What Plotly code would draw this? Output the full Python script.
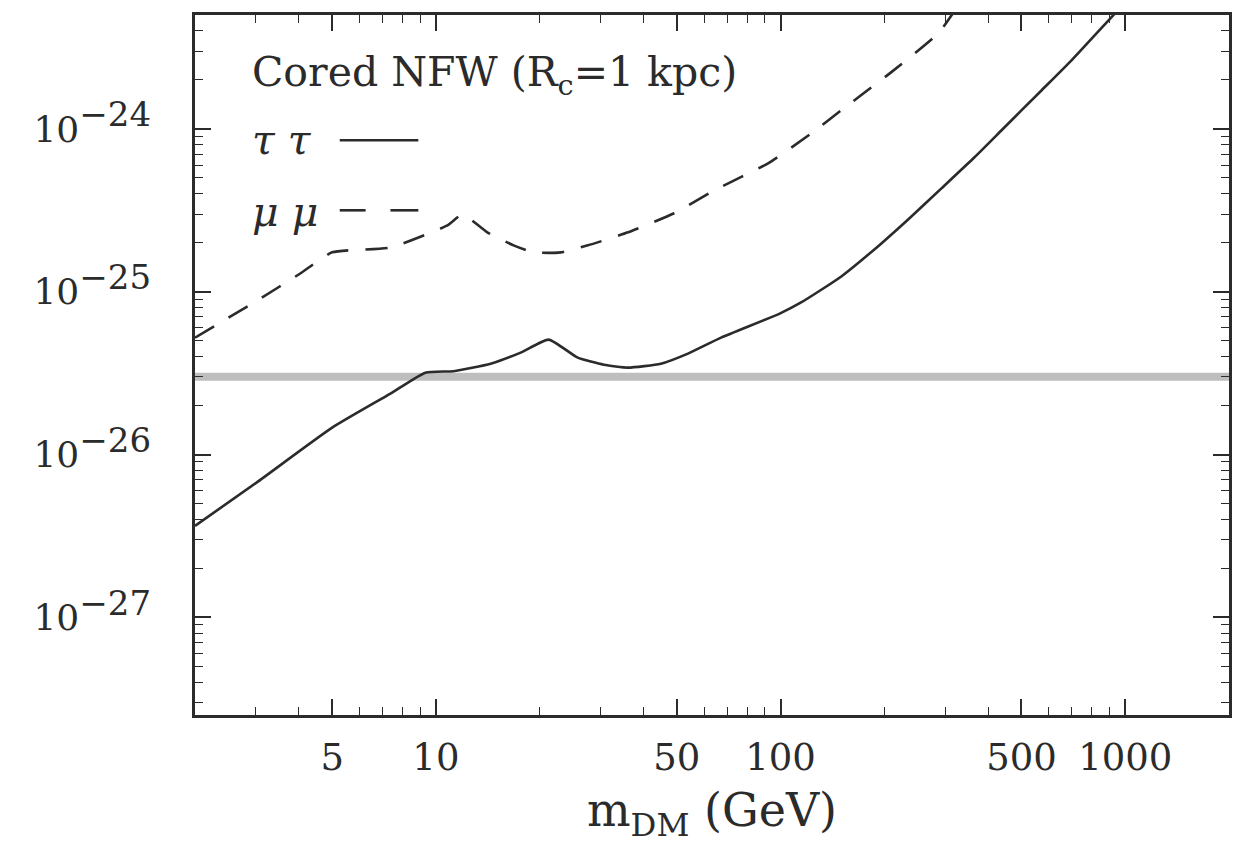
import math
import plotly.graph_objects as go

# --- data ---
tau_mass = [2.0, 3.01, 5.0, 7.38, 9.32, 11.25, 14.41, 17.62, 21.24, 25.79, 30.7, 36.05, 44.96,
            53.86, 67.2, 99.4, 114.7, 150.0, 196.1, 234.9, 292.9, 365.3, 437.7, 572.2, 699.5,
            896.0, 977.0]
tau_logsv = [-26.438, -26.174, -25.835, -25.626, -25.497, -25.488, -25.442, -25.374, -25.294,
             -25.405, -25.448, -25.466, -25.442, -25.380, -25.282, -25.134, -25.066, -24.906,
             -24.703, -24.555, -24.365, -24.174, -24.008, -23.762, -23.577, -23.331, -23.245]

mu_mass = [2.0, 3.03, 4.04, 5.0, 7.38, 10.8, 11.94, 14.1, 16.8, 19.2, 23.0, 27.6, 36.1, 49.1,
           64.2, 92.0, 123.0, 150.0, 209.6, 287.1, 323.9]
mu_logsv = [-25.282, -25.054, -24.888, -24.758, -24.728, -24.592, -24.525, -24.635, -24.715,
            -24.758, -24.758, -24.715, -24.635, -24.518, -24.377, -24.211, -24.026, -23.885,
            -23.651, -23.411, -23.257]

thermal_mass = [2.0, 2000.0]
thermal_sv = [3e-26, 3e-26]

x_tickvals = [5, 10, 50, 100, 500, 1000]
x_ticktext = ["5", "10", "50", "100", "500", "1000"]
y_exponents = [-27, -26, -25, -24]

tau_sv = [10 ** v for v in tau_logsv]
mu_sv = [10 ** v for v in mu_logsv]

INK = "#2b2b2b"
FONT = "DejaVu Serif"

fig = go.Figure()
fig.add_trace(go.Scatter(x=thermal_mass, y=thermal_sv, mode="lines",
                         line=dict(color="#bebebe", width=8), showlegend=False))
fig.add_trace(go.Scatter(x=tau_mass, y=tau_sv, mode="lines",
                         line=dict(color=INK, width=2.6, shape="spline", smoothing=0.5),
                         showlegend=False))
fig.add_trace(go.Scatter(x=mu_mass, y=mu_sv, mode="lines",
                         line=dict(color=INK, width=2.6, dash="22px,17px", shape="spline", smoothing=0.5),
                         showlegend=False))

x_minor = [m * 10 ** e for e in range(0, 4) for m in range(1, 10)]
x_minor = [v for v in x_minor if 2 <= v <= 2000 and v not in x_tickvals]
y_minor = [m * 10 ** e for e in range(-28, -23) for m in range(2, 10)]

fig.update_xaxes(type="log", range=[math.log10(2), math.log10(2000)],
                 tickvals=x_tickvals, ticktext=x_ticktext,
                 ticks="inside", ticklen=16, tickwidth=1.5, tickcolor=INK,
                 minor=dict(tickvals=x_minor, ticks="inside", ticklen=8, tickwidth=1.2, tickcolor=INK),
                 showline=True, linecolor=INK, linewidth=2.5, mirror="ticks",
                 showgrid=False, zeroline=False, ticklabelstandoff=8,
                 tickfont=dict(family=FONT, size=37, color=INK),
                 title=dict(text="m<sub>DM</sub> (GeV)", font=dict(family=FONT, size=46, color=INK),
                            standoff=22))
fig.update_yaxes(type="log", range=[-27.6, -23.3],
                 tickvals=[10 ** e for e in y_exponents],
                 ticktext=["10<sup><span style='font-size:34px'>\u2212%d</span></sup>" % (-e) for e in y_exponents],
                 ticks="inside", ticklen=16, tickwidth=1.5, tickcolor=INK,
                 minor=dict(tickvals=y_minor, ticks="inside", ticklen=8, tickwidth=1.2, tickcolor=INK),
                 showline=True, linecolor=INK, linewidth=2.5, mirror="ticks",
                 showgrid=False, zeroline=False, ticklabelstandoff=34,
                 tickfont=dict(family=FONT, size=36, color=INK))

# legend drawn as text + key lines inside the frame
ann_font = dict(family=FONT, size=41, color=INK)
fig.add_annotation(xref="paper", yref="paper", x=0.053, y=0.914, xanchor="left", yanchor="middle",
                   text="Cored NFW (R<sub>c</sub>=1 kpc)", showarrow=False, font=ann_font)
fig.add_annotation(xref="paper", yref="paper", x=0.053, y=0.821, xanchor="left", yanchor="middle",
                   text="<i>\u03c4 \u03c4</i>", showarrow=False, font=ann_font)
fig.add_annotation(xref="paper", yref="paper", x=0.053, y=0.719, xanchor="left", yanchor="middle",
                   text="<i>\u03bc \u03bc</i>", showarrow=False, font=ann_font)
fig.add_shape(type="line", xref="paper", yref="paper", x0=0.140, x1=0.216, y0=0.821, y1=0.821,
              line=dict(color=INK, width=2.6))
fig.add_shape(type="line", xref="paper", yref="paper", x0=0.140, x1=0.165, y0=0.721, y1=0.721,
              line=dict(color=INK, width=2.6))
fig.add_shape(type="line", xref="paper", yref="paper", x0=0.189, x1=0.216, y0=0.721, y1=0.721,
              line=dict(color=INK, width=2.6))

fig.update_layout(width=1249, height=844, margin=dict(l=195, r=20, t=15, b=129),
                  paper_bgcolor="white", plot_bgcolor="white", showlegend=False)

fig.write_html("out.html")
